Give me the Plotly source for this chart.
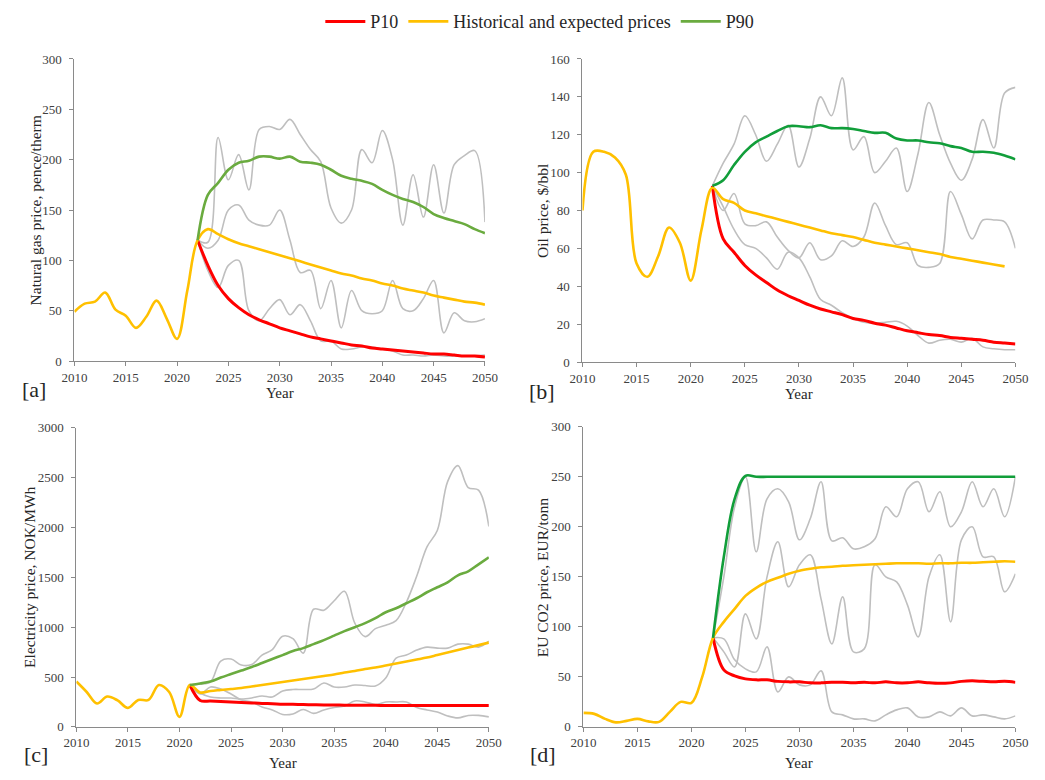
import plotly.graph_objects as go

# ---------------- data ----------------
years_hist = list(range(2010, 2051))
years_f22 = list(range(2022, 2051))
years_f21 = list(range(2021, 2051))
years_oil_hist = list(range(2010, 2050))

# [a] natural gas, pence/therm
gas_hist = [49, 57, 59, 68, 51, 45, 33, 44, 60, 42,
            22, 70, 120, 131, 126, 121, 117, 114, 111, 108,
            105, 102, 99, 96, 93, 90, 87, 85, 82, 80,
            77, 75, 72, 70, 68, 65, 63, 61, 59, 58, 56]
gas_p10 = [120, 95, 75, 62, 53, 46, 41, 37, 33, 30, 27, 24, 22, 20, 18,
           16, 15, 13, 12, 11, 10, 9, 8, 7, 7, 6, 5, 5, 4]
gas_p90 = [120, 165, 177, 190, 197, 199, 203, 203, 201, 203, 198, 197, 195, 190, 184,
           181, 179, 176, 170, 165, 161, 158, 153, 146, 142, 139, 136, 131, 127]
gas_g1 = [120, 118, 222, 180, 205, 170, 230, 233, 230, 240, 225, 210, 198, 152, 137,
          150, 210, 197, 229, 200, 135, 185, 143, 195, 147, 195, 204, 209, 138]
gas_g2 = [120, 112, 120, 150, 155, 140, 135, 135, 150, 120, 88, 90, 52, 80, 33,
          70, 50, 47, 50, 80, 52, 50, 62, 80, 28, 48, 40, 39, 42]
gas_g3 = [120, 90, 73, 95, 100, 50, 40, 52, 61, 46, 56, 40, 20, 20, 12,
          12, 14, 14, 12, 10, 6, 6, 5, 6, 5, 5, 5, 5, 6]

# [b] oil, $/bbl
oil_hist = [80, 111, 111, 108, 99, 52, 45, 56, 71, 63,
            43, 70, 92, 86, 84, 80, 78.5, 77, 75.5, 74,
            72.5, 71, 69.5, 68, 67, 66, 64.5, 63, 62, 61,
            60, 59, 58, 57, 55.5, 54.5, 53.5, 52.5, 51.5, 50.5]
oil_p10 = [93, 65, 58, 51, 46, 42, 38, 35, 32.5, 30, 28, 26.5, 25, 23, 22,
           20.5, 19.5, 18, 16.5, 15.5, 14.5, 14, 13, 12.5, 12, 11.5, 10.5, 10, 9.5]
oil_p90 = [93, 96, 104, 111, 116, 119, 122, 124.5, 124.5, 124, 125, 123.5, 123.5, 123, 122,
           121, 121, 118, 117, 117, 116, 115.5, 114, 113, 111, 111, 110.5, 109, 107]
oil_g1 = [93, 105, 115, 130, 120, 106, 115, 125, 103, 118, 140, 130, 150, 112, 119,
          100, 106, 113, 90, 110, 137, 120, 105, 96, 107, 128, 113, 142, 145]
oil_g2 = [93, 80, 89, 73, 72, 74, 66, 59, 55, 63, 54, 56, 64, 61, 66,
          84, 72, 62, 63, 51, 50, 52, 90, 78, 65, 75, 75, 74, 60]
oil_g3 = [93, 82, 70, 62, 60, 55, 49, 58, 55, 45, 33, 30, 26, 23, 21,
          20.5, 21, 21.5, 19, 14, 10, 11.5, 12, 10.5, 12.5, 8, 7, 6.5, 6.5]

# [c] electricity, NOK/MWh
el_hist = [455, 350, 235, 305, 265, 190, 270, 270, 420, 350,
           100, 420, 345, 360, 370, 380, 390, 405, 420, 435,
           450, 465, 480, 495, 510, 525, 545, 560, 580, 595,
           615, 635, 655, 675, 695, 720, 745, 770, 795, 820, 845]
el_p10 = [420, 265, 260, 255, 250, 245, 240, 235, 232, 228,
          226, 224, 222, 220, 219, 218, 217, 216, 216, 215,
          215, 215, 215, 215, 215, 215, 215, 215, 215, 215]
el_p90 = [420, 435, 455, 495, 530, 565, 600, 640, 680, 720,
          760, 790, 830, 870, 915, 960, 1000, 1040, 1090, 1150,
          1190, 1240, 1290, 1350, 1400, 1450, 1520, 1560, 1630, 1700]
el_g1 = [420, 430, 450, 660, 680, 620, 625, 720, 775, 910,
         885, 740, 1180, 1170, 1265, 1360, 1040, 905, 985, 1020,
         1065, 1250, 1510, 1805, 1970, 2460, 2620, 2400, 2375, 2010]
el_g2 = [420, 340, 300, 290, 290, 280, 290, 310, 300, 360,
         375, 375, 380, 440, 400, 400, 420, 415, 410, 490,
         690, 720, 770, 800, 790, 790, 830, 830, 800, 860]
el_g3 = [420, 330, 400, 380, 330, 270, 250, 200, 170, 125,
         130, 175, 135, 170, 195, 210, 260, 250, 225, 250,
         250, 250, 195, 170, 150, 110, 90, 115, 115, 100]

# [d] EU CO2, EUR/tonn
co2_hist = [14, 13, 8, 4.5, 6, 8, 5.5, 5, 15, 25,
            24, 50, 89, 105, 118, 131, 139, 145, 149, 153,
            156, 158, 159.5, 160, 161, 161.5, 162, 162.5, 163, 163.5,
            163.5, 163.5, 163, 163.5, 163.5, 164, 164, 164.5, 165, 165.5, 165]
co2_p10 = [89, 57, 51, 48, 47, 47, 45.5, 45, 45, 44, 44, 44.5, 44.5, 44, 44.5,
           44, 45, 44, 44, 45, 44, 43.5, 44, 45.5, 46, 45.5, 45, 45.5, 44.5]
co2_p90 = [89, 170, 228, 251, 250, 250, 250, 250, 250, 250, 250, 250, 250, 250, 250,
           250, 250, 250, 250, 250, 250, 250, 250, 250, 250, 250, 250, 250, 250]
co2_g1 = [89, 150, 220, 250, 175, 228, 238, 225, 187, 208, 245, 186, 189, 178, 180,
          188, 220, 210, 238, 245, 215, 235, 200, 215, 245, 220, 238, 210, 250]
co2_g2 = [89, 75, 60, 113, 88, 150, 185, 140, 162, 172, 128, 83, 130, 75, 78,
          162, 150, 145, 122, 90, 150, 172, 105, 187, 200, 170, 170, 135, 153]
co2_g3 = [89, 88, 67, 58, 55, 80, 35, 50, 42, 42, 56, 15, 12, 8, 8,
          6, 12, 17, 19, 10, 10, 15, 11, 19, 11, 12, 10, 8, 11]

y_titles = ["Natural gas price, pence/therm", "Oil price, $/bbl",
            "Electricity price, NOK/MWh", "EU CO2 price, EUR/tonn"]
panel_tags = ["[a]", "[b]", "[c]", "[d]"]

# ---------------- styling ----------------
FONT = "Liberation Serif"
RED = "#FF0000"
YEL = "#FFC000"
GREEN_LIGHT = "#6AAB3F"
GREEN_DARK = "#119E3A"
GREY = "#BFBFBF"

W, H = 1045, 780
# pixel boxes of the plot areas: (left, right, top, bottom)
boxes = [(63, 484, 53, 361), (584, 1028, 53, 362),
         (65, 488, 429, 734), (585, 1028, 428, 734)]
ytitle_off = [40, 41, 48, 42]
year_off = [33, 33, 37, 37]
tag_off = [29, 30, 28, 28]

panels = [
    dict(hx=years_hist, hy=gas_hist, fx=years_f22, p10=gas_p10, p90=gas_p90,
         greys=[gas_g1, gas_g2, gas_g3], green=GREEN_LIGHT, yr=[0, 300], dt=50),
    dict(hx=years_oil_hist, hy=oil_hist, fx=years_f22, p10=oil_p10, p90=oil_p90,
         greys=[oil_g1, oil_g2, oil_g3], green=GREEN_DARK, yr=[0, 160], dt=20),
    dict(hx=years_hist, hy=el_hist, fx=years_f21, p10=el_p10, p90=el_p90,
         greys=[el_g1, el_g2, el_g3], green=GREEN_LIGHT, yr=[0, 3000], dt=500),
    dict(hx=years_hist, hy=co2_hist, fx=years_f22, p10=co2_p10, p90=co2_p90,
         greys=[co2_g1, co2_g2, co2_g3], green=GREEN_DARK, yr=[0, 300], dt=50),
]

fig = go.Figure()
layout = {}
annotations = []

for i, p in enumerate(panels):
    n = "" if i == 0 else str(i + 1)
    xa, ya = "x" + n, "y" + n
    for g in p["greys"]:
        fig.add_trace(go.Scatter(x=p["fx"], y=g, mode="lines", xaxis=xa, yaxis=ya,
                                 line=dict(color=GREY, width=1.6, shape="spline", smoothing=1.0),
                                 showlegend=False, hoverinfo="skip"))
    fig.add_trace(go.Scatter(x=p["fx"], y=p["p10"], mode="lines", name="P10", xaxis=xa, yaxis=ya,
                             line=dict(color=RED, width=3, shape="spline", smoothing=1.0),
                             showlegend=(i == 0), legendgroup="p10"))
    fig.add_trace(go.Scatter(x=p["hx"], y=p["hy"], mode="lines", name="Historical and expected prices",
                             xaxis=xa, yaxis=ya,
                             line=dict(color=YEL, width=2.6, shape="spline", smoothing=1.0),
                             showlegend=(i == 0), legendgroup="hist"))
    fig.add_trace(go.Scatter(x=p["fx"], y=p["p90"], mode="lines", name="P90", xaxis=xa, yaxis=ya,
                             line=dict(color=p["green"], width=2.6, shape="spline", smoothing=1.0),
                             showlegend=(i == 0), legendgroup="p90"))

    l, r, t, b = boxes[i]
    axis_common = dict(showline=True, linecolor="#8a8a8a", linewidth=1, ticks="outside",
                       ticklen=4, tickcolor="#8a8a8a", showgrid=False, zeroline=False,
                       tickfont=dict(family=FONT, size=13, color="#404040"))
    layout["xaxis" + n] = dict(domain=[l / W, r / W], range=[2010, 2050], tick0=2010, dtick=5,
                               anchor=ya, ticklabelstandoff=0, **axis_common)
    layout["yaxis" + n] = dict(domain=[1 - b / H, 1 - t / H], range=p["yr"], dtick=p["dt"],
                               anchor=xa, ticklabelstandoff=5, **axis_common)

    annotations.append(dict(text=y_titles[i], textangle=-90, xref="paper", yref="paper",
                            x=(l - ytitle_off[i]) / W, y=1 - ((t + b) / 2) / H, showarrow=False,
                            xanchor="center", yanchor="middle",
                            font=dict(family=FONT, size=15.5, color="#262626")))
    annotations.append(dict(text="Year", xref="paper", yref="paper",
                            x=((l + r) / 2) / W, y=1 - (b + year_off[i]) / H, showarrow=False,
                            xanchor="center", yanchor="middle",
                            font=dict(family=FONT, size=15, color="#262626")))
    annotations.append(dict(text=panel_tags[i], xref="paper", yref="paper",
                            x=(l - 41) / W, y=1 - (b + tag_off[i]) / H, showarrow=False,
                            xanchor="center", yanchor="middle",
                            font=dict(family=FONT, size=22, color="#262626")))

fig.update_layout(
    width=W, height=H,
    margin=dict(l=0, r=0, t=0, b=0),
    paper_bgcolor="white", plot_bgcolor="white",
    font=dict(family=FONT, color="#262626"),
    legend=dict(orientation="h", x=0.517, xanchor="center", y=1 - 15 / H, yanchor="middle",
                font=dict(family=FONT, size=18, color="#262626"), itemwidth=40,
                bgcolor="rgba(0,0,0,0)"),
    annotations=annotations,
    **layout,
)

fig.write_html("out.html")
